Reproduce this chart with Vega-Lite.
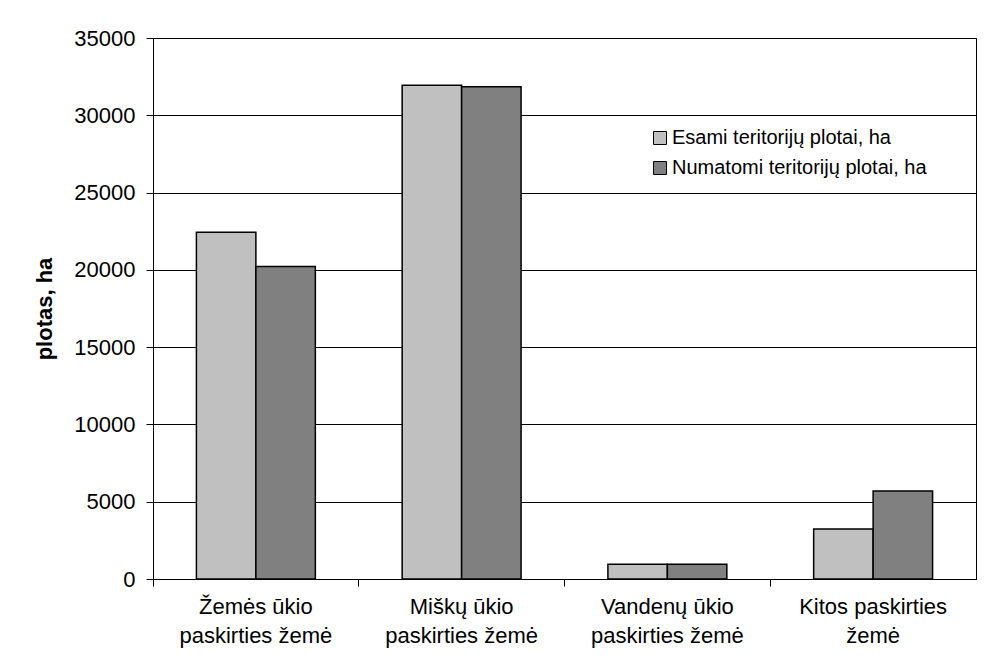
{
  "$schema": "https://vega.github.io/schema/vega-lite/v6.json",
  "width": 823,
  "height": 541,
  "autosize": "none",
  "padding": {"left": 153, "top": 38, "right": 17, "bottom": 81},
  "background": "white",
  "data": {
    "values": [
      {"kategorija": "Žemės ūkio paskirties žemė", "serija": "Esami teritorijų plotai, ha", "plotas": 22430},
      {"kategorija": "Žemės ūkio paskirties žemė", "serija": "Numatomi teritorijų plotai, ha", "plotas": 20210},
      {"kategorija": "Miškų ūkio paskirties žemė", "serija": "Esami teritorijų plotai, ha", "plotas": 31950},
      {"kategorija": "Miškų ūkio paskirties žemė", "serija": "Numatomi teritorijų plotai, ha", "plotas": 31850},
      {"kategorija": "Vandenų ūkio paskirties žemė", "serija": "Esami teritorijų plotai, ha", "plotas": 950},
      {"kategorija": "Vandenų ūkio paskirties žemė", "serija": "Numatomi teritorijų plotai, ha", "plotas": 950},
      {"kategorija": "Kitos paskirties žemė", "serija": "Esami teritorijų plotai, ha", "plotas": 3240},
      {"kategorija": "Kitos paskirties žemė", "serija": "Numatomi teritorijų plotai, ha", "plotas": 5700}
    ]
  },
  "mark": {"type": "bar", "stroke": "black", "strokeWidth": 1.5},
  "encoding": {
    "x": {
      "field": "kategorija",
      "type": "nominal",
      "sort": null,
      "scale": {"paddingInner": 0, "paddingOuter": 0},
      "axis": {
        "title": null,
        "labelAngle": 0,
        "bandPosition": 0,
        "labelFont": "Liberation Sans",
        "labelFontSize": 22,
        "labelColor": "black",
        "labelPadding": 10,
        "labelLineHeight": 29,
        "labelLimit": 400,
        "labelOverlap": false,
        "labelBound": false,
        "labelFlush": false,
        "labelExpr": "indexof(datum.label,'Kitos')==0 ? ['Kitos paskirties','žemė'] : [replace(datum.label,' paskirties žemė',''), 'paskirties žemė']",
        "domainColor": "black",
        "tickColor": "black",
        "tickSize": 7,
        "grid": false
      }
    },
    "xOffset": {
      "field": "serija",
      "type": "nominal",
      "scale": {"paddingInner": 0, "paddingOuter": 0.73}
    },
    "y": {
      "field": "plotas",
      "type": "quantitative",
      "scale": {"domain": [0, 35000]},
      "axis": {
        "title": "plotas, ha",
        "titleFont": "Liberation Sans",
        "titleFontSize": 22,
        "titleFontWeight": "bold",
        "titleColor": "black",
        "titlePadding": 17,
        "values": [0, 5000, 10000, 15000, 20000, 25000, 30000, 35000],
        "format": "d",
        "labelFont": "Liberation Sans",
        "labelFontSize": 22,
        "labelColor": "black",
        "labelPadding": 11,
        "domainColor": "black",
        "tickColor": "black",
        "tickSize": 7,
        "gridColor": "black",
        "gridOpacity": 1
      }
    },
    "fill": {
      "field": "serija",
      "type": "nominal",
      "scale": {"range": ["#c0c0c0", "#808080"]},
      "legend": {
        "title": null,
        "orient": "none",
        "legendX": 497,
        "legendY": 90,
        "symbolType": "square",
        "symbolSize": 169,
        "symbolStrokeColor": "black",
        "symbolStrokeWidth": 1,
        "symbolOpacity": 1,
        "labelFont": "Liberation Sans",
        "labelFontSize": 20,
        "labelColor": "black",
        "labelOffset": 2,
        "labelLimit": 400,
        "rowPadding": 10
      }
    }
  },
  "config": {
    "view": {"stroke": "black", "strokeWidth": 1},
    "axis": {"domainWidth": 1, "tickWidth": 1}
  }
}
